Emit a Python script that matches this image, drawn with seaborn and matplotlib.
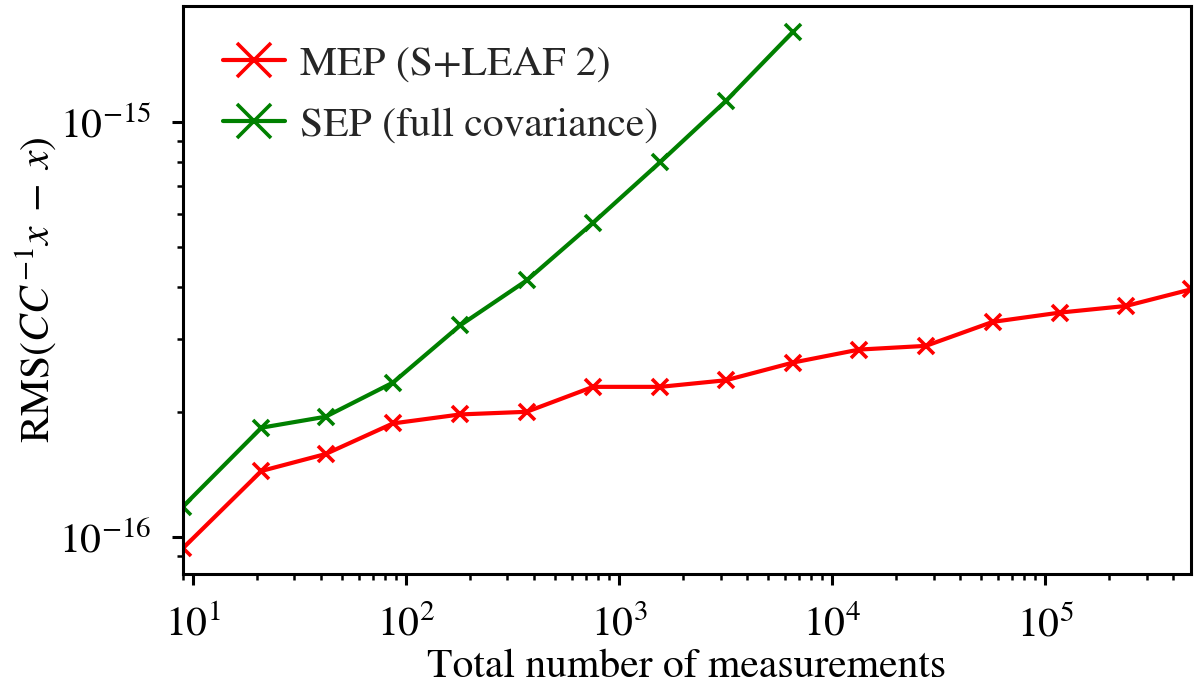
import numpy as np
import pandas as pd
import matplotlib
matplotlib.use("Agg")
import matplotlib.pyplot as plt
import matplotlib.ticker as mticker
import seaborn as sns

# Data
mep_x = [9, 21, 42, 87, 180, 369, 756, 1560, 3180, 6570, 13400, 27600, 56700, 117000, 240000, 484000]
mep_y = [9.39e-17, 1.441e-16, 1.583e-16, 1.876e-16, 1.972e-16, 2.001e-16, 2.298e-16, 2.298e-16,
         2.384e-16, 2.630e-16, 2.826e-16, 2.885e-16, 3.295e-16, 3.469e-16, 3.600e-16, 3.947e-16]
sep_x = [9, 21, 42, 87, 180, 369, 756, 1560, 3180, 6570]
sep_y = [1.183e-16, 1.832e-16, 1.947e-16, 2.353e-16, 3.233e-16, 4.147e-16, 5.71e-16, 7.99e-16,
         1.123e-15, 1.649e-15]
labels = ["MEP (S+LEAF 2)", "SEP (full covariance)"]
colors = ["red", "green"]
xlabel = "Total number of measurements"
ylabel = r"RMS($CC^{-1}x\;-\;x$)"

sns.set_theme(style="ticks")
plt.rcParams["font.family"] = ["STIXGeneral", "DejaVu Serif"]
plt.rcParams["mathtext.fontset"] = "stix"
plt.rcParams["axes.linewidth"] = 1.1
for ax_ in ("xtick", "ytick"):
    plt.rcParams[f"{ax_}.major.width"] = 1.1
    plt.rcParams[f"{ax_}.minor.width"] = 0.9
    plt.rcParams[f"{ax_}.major.size"] = 4
    plt.rcParams[f"{ax_}.minor.size"] = 2.2
    plt.rcParams[f"{ax_}.major.pad"] = 7.5
    plt.rcParams[f"{ax_}.minor.pad"] = 7.5
    plt.rcParams[f"{ax_}.color"] = "black"
    plt.rcParams[f"{ax_}.direction"] = "out"

df = pd.concat([
    pd.DataFrame({"x": mep_x, "y": mep_y, "method": labels[0]}),
    pd.DataFrame({"x": sep_x, "y": sep_y, "method": labels[1]}),
])

fig = plt.figure(figsize=(6, 3.435), dpi=200)
ax = fig.add_axes([0.1525, 0.1645, 0.84, 0.827])
ax.set_xscale("log")
ax.set_yscale("log")
for lab, col in zip(labels, colors):
    sub = df[df["method"] == lab]
    sns.lineplot(data=sub, x="x", y="y", ax=ax, color=col, marker="x", markersize=6,
                 markeredgewidth=1.3, markeredgecolor=col, linewidth=1.5, label=lab,
                 estimator=None, sort=False)

ax.set_xlim(mep_x[0], mep_x[-1])
ax.xaxis.set_minor_formatter(mticker.NullFormatter())
ax.yaxis.set_minor_formatter(mticker.NullFormatter())
ax.set_xlabel(xlabel, fontsize=15, color="black", labelpad=1)
ax.set_ylabel(ylabel, fontsize=15, color="black", labelpad=0)
ax.tick_params(axis="both", which="major", labelsize=15, colors="black")
for s in ax.spines.values():
    s.set_color("black")
leg = ax.legend(loc="upper left", frameon=False, fontsize=15, markerscale=2,
                handlelength=1.5, handletextpad=0.35, labelspacing=0.55,
                borderaxespad=0.55)
fig.savefig("out.png", dpi=200)
